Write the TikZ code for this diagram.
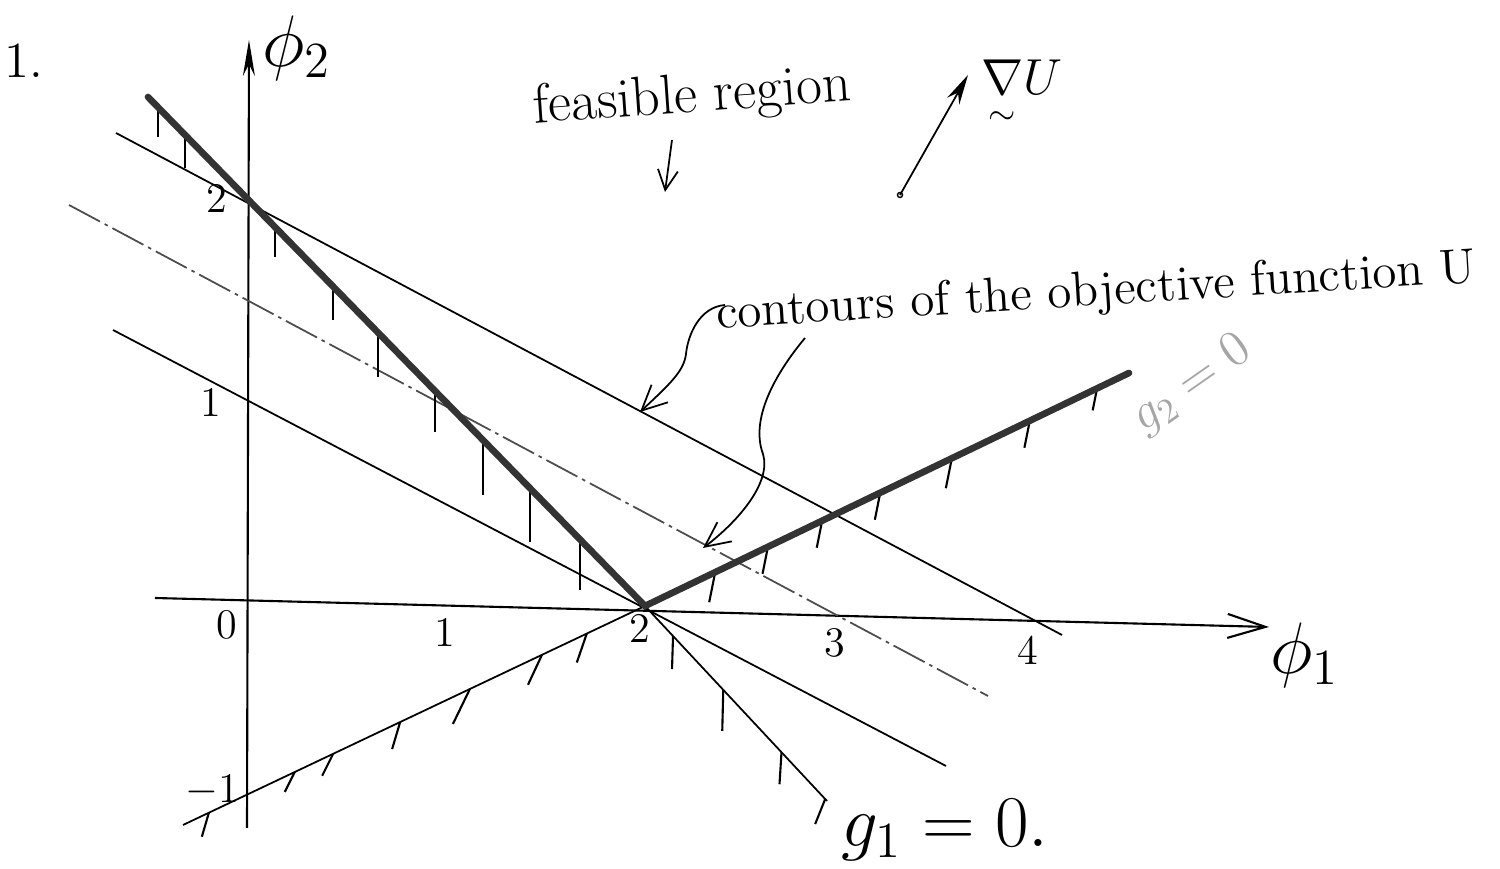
\documentclass[tikz,border=0pt]{standalone}
\usepackage{amsmath}
\usepackage{tikz}
\usetikzlibrary{calc,arrows.meta}

\begin{document}
\begin{tikzpicture}[
    contour/.style={line width=0.5pt},
    constr/.style={line width=1.9pt, draw=black!80, line cap=round},
    hatch/.style={line width=0.6pt},
    lbl/.style={inner sep=0pt, font=\large},
    barb/.style={-{Straight Barb[length=2.5mm,width=2.4mm]}},
  ]
  \useasboundingbox (0,0) rectangle (15,8.69);
  % points
  \coordinate (V) at (6.45,2.63);
  \coordinate (G1a) at (1.48,7.72);
  \coordinate (G1c) at (8.27,0.68);
  \coordinate (G2b) at (11.29,4.96);
  \coordinate (G2c) at (1.83,0.44);
  % axes
  \coordinate (xa) at (1.55,2.71);
  \coordinate (xb) at (12.69,2.42);
  \coordinate (ya) at (2.47,0.41);
  \coordinate (yb) at (2.49,8.29);
  \draw[line width=0.6pt,-{Straight Barb[length=3.8mm,width=2.4mm]}] (xa) -- (xb);
  \draw[line width=0.6pt,-{Stealth[length=3.6mm,width=1.2mm]}] (ya) -- (yb);
  \node[font=\huge] (phi1) at (13.05,2.14) {$\phi_1$};
  \node[font=\huge] (phi2) at (2.97,8.21) {$\phi_2$};
  \node[font=\Large] (num) at (0.24,8.08) {1.};
  % tick labels
  \node[lbl] (x0) at (2.27,2.44) {0};
  \node[lbl] (x1) at (4.45,2.37) {1};
  \node[lbl] (x2) at (6.40,2.41) {2};
  \node[lbl] (x3) at (8.35,2.26) {3};
  \node[lbl] (x4) at (10.28,2.19) {4};
  \node[lbl] (y2) at (2.17,6.71) {2};
  \node[lbl] (y1) at (2.11,4.67) {1};
  \node[lbl] (ym) at (2.12,0.78) {$-1$};
  % contours of U
  \draw[contour] (1.16,7.36) -- (10.62,2.34);
  \draw[contour, black!70, dash pattern=on 10pt off 1.5pt on 1pt off 1.5pt] (0.69,6.64) -- (9.88,1.73);
  \draw[contour] (1.13,5.39) -- (9.46,1.03);
  % extended constraint lines
  \draw[contour] (V) -- (G1c);
  \draw[contour] (V) -- (G2c);
  % hatches
  \foreach \t/\l in {0.02/0.30,0.074/0.33,0.256/0.30,0.372/0.34,0.463/0.44,0.577/0.41,0.674/0.55,0.769/0.54,0.869/0.51}
    \draw[hatch] ($(G1a)!\t!(V)$) -- ++(0,-\l);
  \foreach \t/\l in {0.145/0.30,0.254/0.27,0.366/0.27,0.486/0.27,0.634/0.30,0.795/0.27,0.934/0.22}
    \draw[hatch] ($(V)!\t!(G2b)$) -- ++(-0.2*\l,-\l);
  \foreach \t/\dx/\l in {0.126/-0.10/0.29,0.223/-0.14/0.30,0.379/-0.17/0.35,0.53/-0.08/0.27,0.675/-0.11/0.22,0.758/-0.10/0.20,0.944/-0.07/0.24}
    \draw[hatch] ($(V)!\t!(G2c)$) -- ++(\dx,-\l);
  \foreach \t/\dx/\l in {0.154/-0.01/0.33,0.43/-0.01/0.41,0.75/-0.02/0.32,0.99/-0.10/0.25}
    \draw[hatch] ($(V)!\t!(G1c)$) -- ++(\dx,-\l);
  % active constraints
  \draw[constr] (G1a) -- (V) -- (G2b);
  \node[font=\huge] (g1) at (9.45,0.39) {$g_1=0.$};
  \node[font=\Large, text=black!35, rotate=35, inner sep=0pt] (g2) at (11.92,4.84) {$g_2=0$};
  % feasible region
  \node[font=\fontsize{16}{18}\selectfont, rotate=4] (feas) at (6.92,7.71) {feasible\ region};
  \coordinate (fa) at (6.72,7.29);
  \coordinate (fb) at (6.65,6.77);
  \draw[line width=0.5pt, -{Straight Barb[length=2mm,width=2mm]}] (fa) -- (fb);
  % gradient
  \coordinate (Ua) at (9.00,6.74);
  \coordinate (Ub) at (9.68,7.94);
  \draw (Ua) circle (0.025);
  \draw[line width=0.5pt, -{Stealth[length=3mm,width=1.4mm]}] (Ua) -- (Ub);
  \node[font=\Large] (gradU) at (10.22,7.74) {$\underset{\sim}{\nabla}U$};
  % contours label and leaders
  \node[font=\fontsize{14}{16}\selectfont, rotate=3.5, inner sep=1pt] (cont) at (10.96,5.76) {contours of the objective function U};
  \coordinate (c1) at (6.40,4.57);
  \coordinate (c2) at (7.03,3.21);
  \draw[line width=0.5pt, barb] (7.25,5.64) .. controls (7.00,5.62) and (6.88,5.35) .. (6.86,5.15)
    .. controls (6.84,4.98) and (6.70,4.85) .. (c1);
  \draw[line width=0.5pt, barb] (8.05,5.31) .. controls (7.75,4.95) and (7.50,4.50) .. (7.63,4.15)
    .. controls (7.72,3.85) and (7.35,3.45) .. (c2);
\end{tikzpicture}
\end{document}
